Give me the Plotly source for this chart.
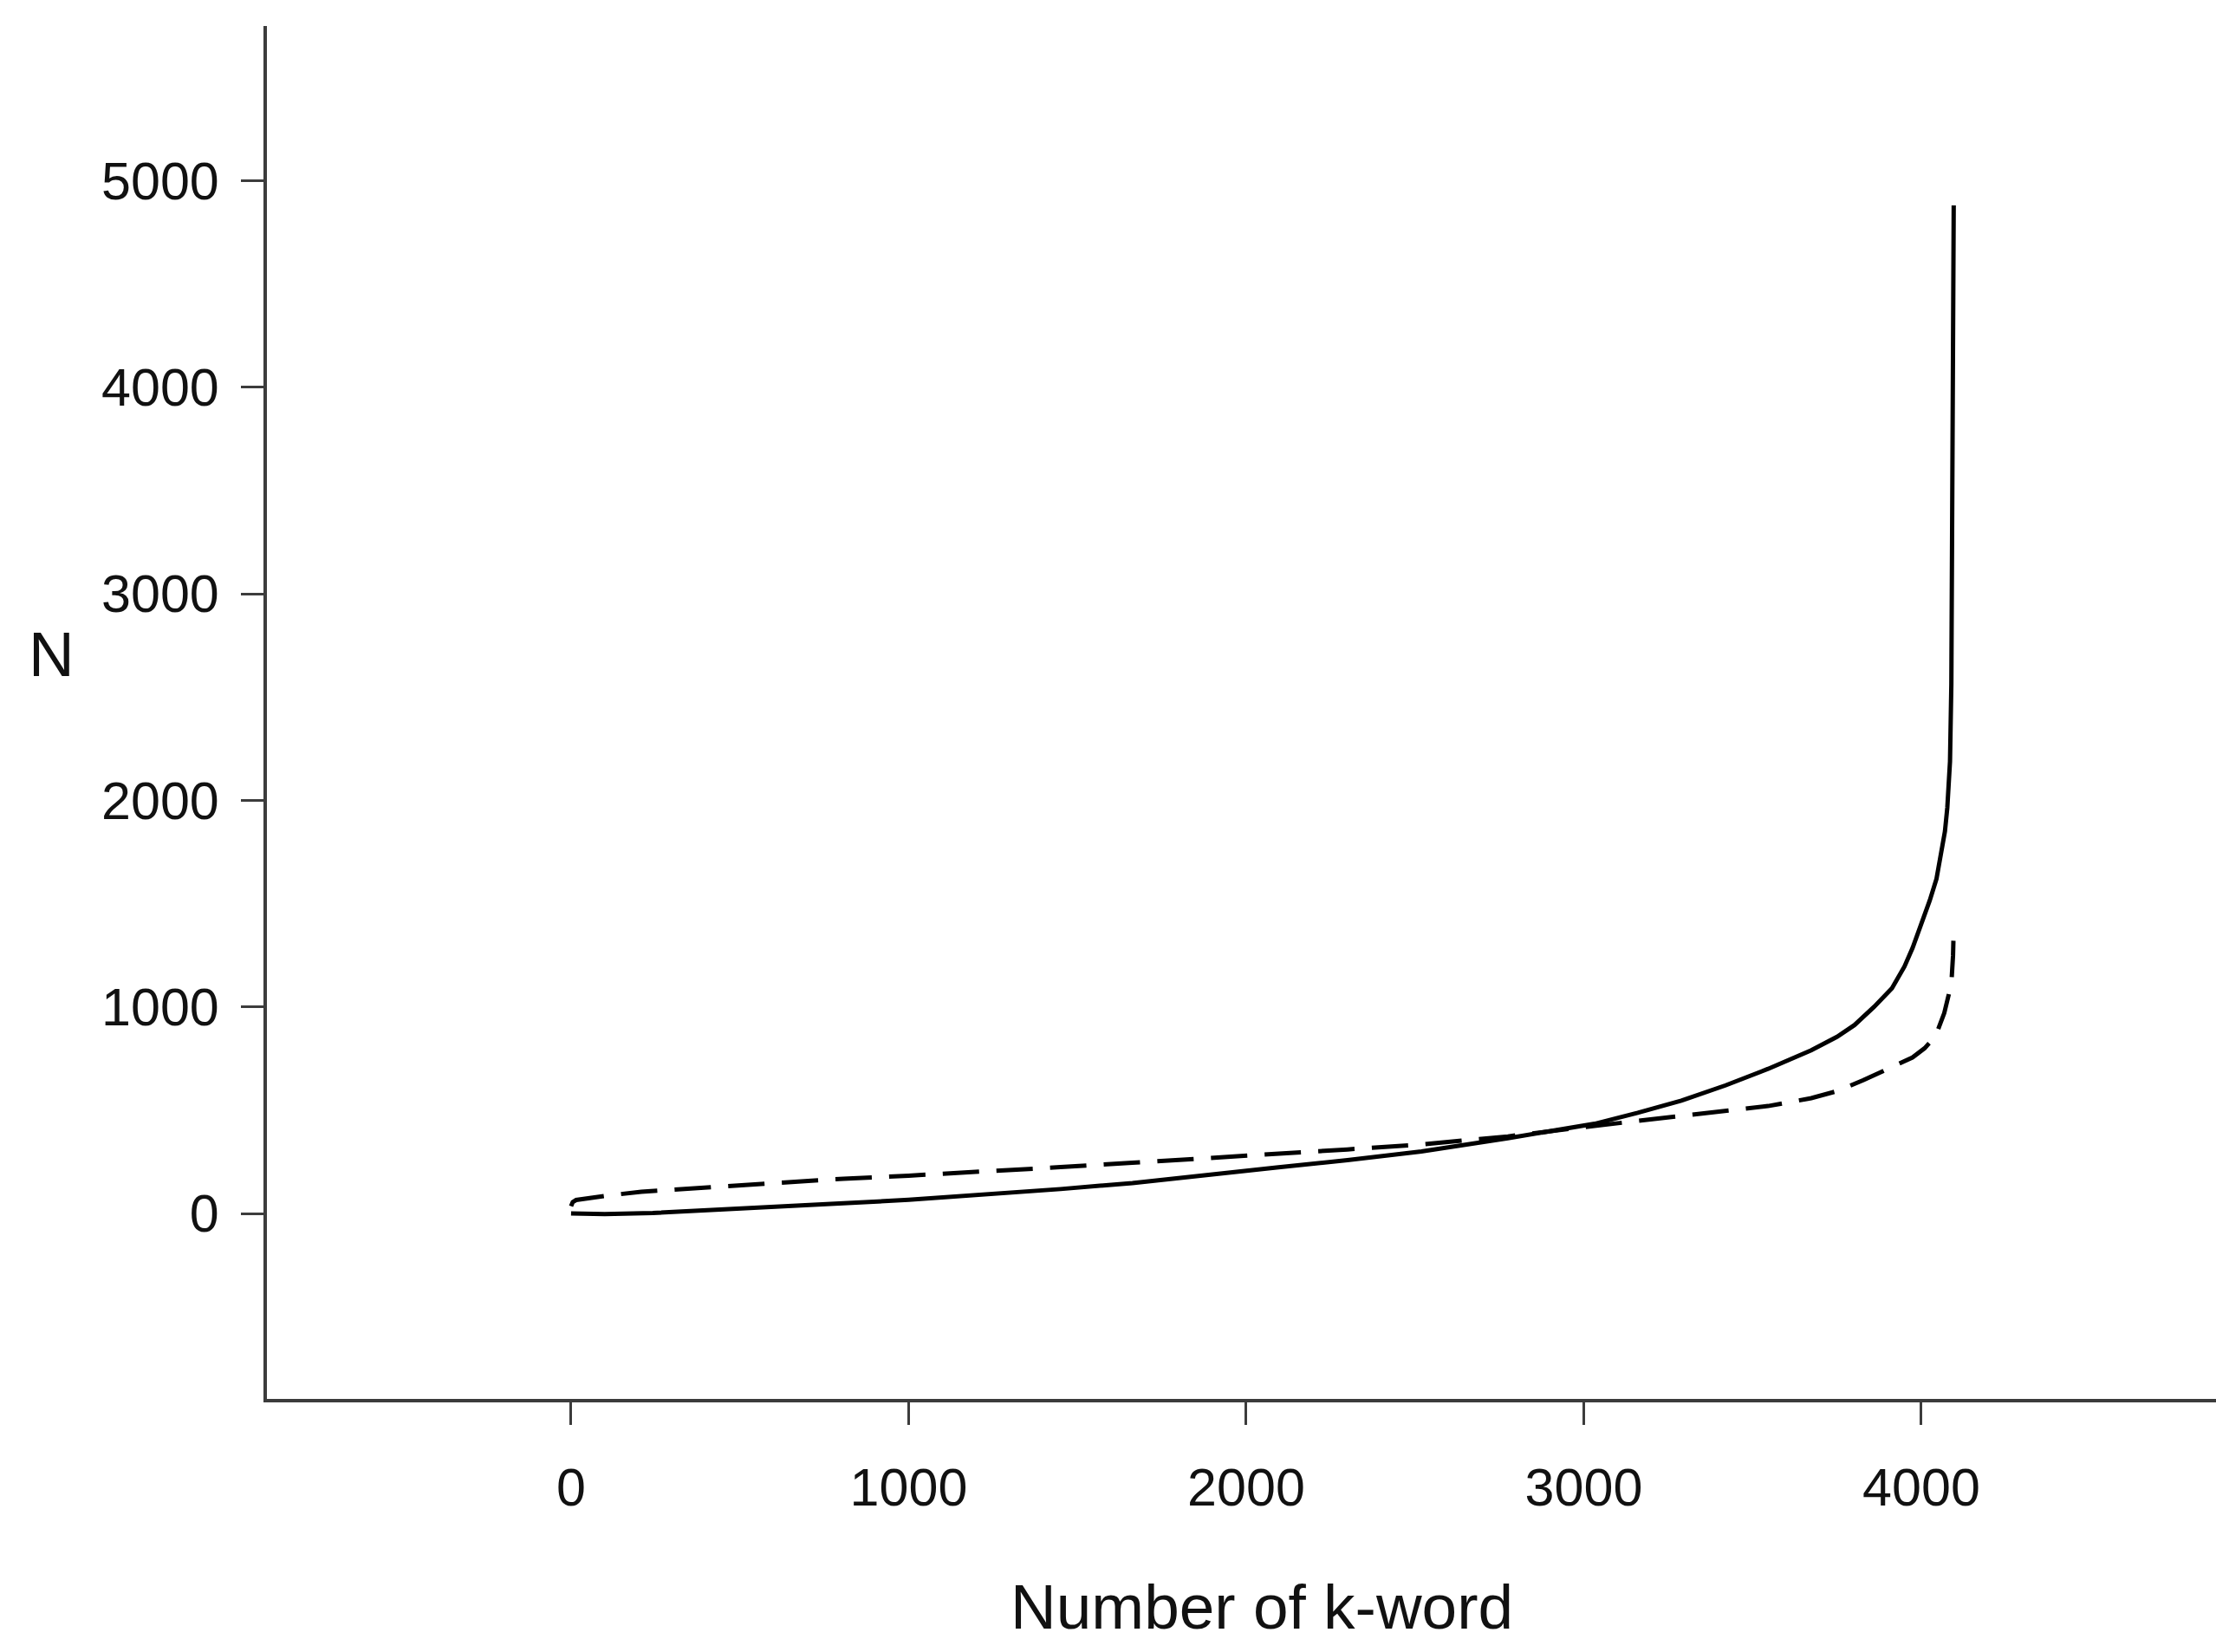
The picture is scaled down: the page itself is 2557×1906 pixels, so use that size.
import plotly.graph_objects as go

# values
solid_x = [0, 100, 242, 400, 593, 807, 1000, 1235, 1450, 1663, 1880, 2090, 2300,
           2519, 2775, 3032, 3160, 3289, 3420, 3546, 3674, 3750, 3802, 3860, 3913,
           3950, 3974, 4000, 4025, 4045, 4059, 4070, 4077, 4085, 4089, 4092, 4094, 4096]
solid_y = [0, -3, 2, 14, 28, 49, 66, 91, 118, 147, 183, 222, 258,
           300, 364, 434, 487, 546, 620, 700, 790, 855, 912, 1000, 1090,
           1195, 1285, 1395, 1515, 1620, 1739, 1850, 1964, 2188, 2564, 3300, 4100, 4880]

dashed_x = [0, 5, 15, 36, 100, 208, 350, 550, 807, 1000, 1235, 1450, 1663, 1880,
            2090, 2300, 2519, 2775, 3032, 3289, 3420, 3546, 3674, 3750, 3828, 3900,
            3974, 4010, 4042, 4068, 4080, 4089, 4094, 4096]
dashed_y = [35, 55, 65, 71, 85, 105, 120, 140, 168, 183, 203, 224, 245, 266,
            287, 310, 334, 373, 424, 472, 495, 520, 558, 592, 645, 700,
            755, 800, 858, 970, 1040, 1112, 1250, 1380]

x_ticks = [0, 1000, 2000, 3000, 4000]
y_ticks = [0, 1000, 2000, 3000, 4000, 5000]

font = 'Liberation Sans, Arial, Helvetica, sans-serif'
ink = '#111111'
axis_col = '#3c3c3c'

fig = go.Figure()
fig.add_trace(go.Scatter(x=solid_x, y=solid_y, mode='lines',
                         line=dict(color='black', width=5)))
fig.add_trace(go.Scatter(x=dashed_x, y=dashed_y, mode='lines',
                         line=dict(color='black', width=5, dash='42px,20px')))

axis_common = dict(showgrid=False, zeroline=False, showline=True,
                   linecolor=axis_col, linewidth=4, ticks='outside',
                   ticklen=26, tickwidth=3, tickcolor=axis_col,
                   tickfont=dict(family=font, size=61, color=ink))

fig.update_xaxes(range=[-901, 4873], tickvals=x_ticks,
                 ticktext=[str(v) for v in x_ticks],
                 ticklabelstandoff=20, **axis_common)
fig.update_yaxes(range=[-898, 5749], tickvals=y_ticks,
                 ticktext=[str(v) for v in y_ticks],
                 ticklabelstandoff=13, **axis_common)

fig.update_layout(
    width=2557, height=1906,
    margin=dict(l=308, r=0, t=30, b=292),
    paper_bgcolor='white', plot_bgcolor='white',
    showlegend=False,
    font=dict(family=font, color=ink),
    annotations=[
        dict(text='N', xref='paper', yref='paper', x=-0.1103, y=0.5423,
             xanchor='center', yanchor='middle', showarrow=False,
             font=dict(family=font, size=73, color=ink)),
        dict(text='Number of k-word', xref='paper', yref='paper', x=0.5104, y=-0.1515,
             xanchor='center', yanchor='middle', showarrow=False,
             font=dict(family=font, size=73, color=ink)),
    ],
)

fig.write_html("out.html", config={'displayModeBar': False},
               post_script="document.body.style.margin='0';")
